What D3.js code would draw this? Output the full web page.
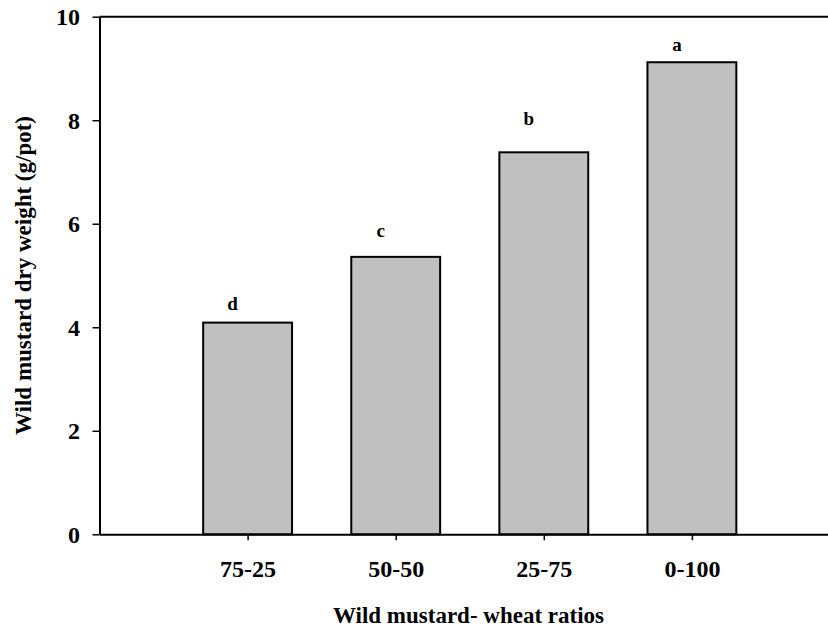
<!DOCTYPE html>
<html>
<head>
<meta charset="utf-8">
<script src="https://cdn.jsdelivr.net/npm/d3@7"></script>
<style>
  html, body { margin: 0; padding: 0; background: #ffffff; }
  svg { display: block; }
  text { font-family: "Liberation Serif", "Times New Roman", serif; font-weight: bold; fill: #000; }
</style>
</head>
<body>
<svg id="chart" width="828" height="631"></svg>
<script>
// Wild mustard dry weight by wild mustard : wheat planting ratio
const categories = ["75-25", "50-50", "25-75", "0-100"];
const dryWeight = [4.09, 5.36, 7.38, 9.12];
// Mean-separation letters and the height (g/pot) at which each is set
const groupLetters = ["d", "c", "b", "a"];
const letterHeights = [4.33, 5.75, 7.91, 9.34];
const yTicks = [0, 2, 4, 6, 8, 10];

const svg = d3.select("#chart");
const W = 828, H = 631;
const plot = { left: 99.5, right: 840, top: 16.7, bottom: 534.3 };

const x = d3.scalePoint()
  .domain(categories)
  .range([plot.left, plot.right])
  .padding(1);

const y = d3.scaleLinear()
  .domain([0, 10])
  .range([plot.bottom, plot.top]);

const barWidth = x.step() * 0.6;

// Bars
svg.append("g")
  .selectAll("rect")
  .data(categories)
  .join("rect")
  .attr("x", (d) => x(d) - barWidth / 2)
  .attr("y", (d, i) => y(dryWeight[i]))
  .attr("width", barWidth)
  .attr("height", (d, i) => y(0) - y(dryWeight[i]))
  .attr("fill", "#c0c0c0")
  .attr("stroke", "#000")
  .attr("stroke-width", 2);

// Letters above bars
svg.append("g")
  .selectAll("text")
  .data(categories)
  .join("text")
  .attr("x", (d) => x(d) - 15)
  .attr("y", (d, i) => y(letterHeights[i]))
  .attr("text-anchor", "middle")
  .style("font-size", "19px")
  .text((d, i) => groupLetters[i]);

// Y axis
const yAxis = svg.append("g")
  .attr("transform", `translate(${plot.left},0)`)
  .call(d3.axisLeft(y).tickValues(yTicks).tickSize(7).tickPadding(12.5).tickSizeOuter(0));
yAxis.select(".domain").attr("stroke", "#000").attr("stroke-width", 2);
yAxis.selectAll(".tick line").attr("stroke", "#000").attr("stroke-width", 1.5);
yAxis.selectAll(".tick text")
  .style("font-size", "24px")
  .style("font-family", "'Liberation Serif', 'Times New Roman', serif")
  .style("font-weight", "bold")
  .attr("dy", "0.34em");

// X axis (runs off the right edge)
const xAxis = svg.append("g")
  .attr("transform", `translate(0,${plot.bottom})`)
  .call(d3.axisBottom(x).tickSize(6).tickSizeOuter(0));
xAxis.select(".domain").attr("stroke", "#000").attr("stroke-width", 2);
xAxis.selectAll(".tick line").attr("stroke", "#000").attr("stroke-width", 1.5);
xAxis.selectAll(".tick text")
  .style("font-size", "24px")
  .style("font-family", "'Liberation Serif', 'Times New Roman', serif")
  .style("font-weight", "bold")
  .attr("y", 42.7)
  .attr("dy", 0);

// Top frame line
svg.append("line")
  .attr("x1", plot.left).attr("x2", W)
  .attr("y1", y(10)).attr("y2", y(10))
  .attr("stroke", "#000").attr("stroke-width", 2);

// Axis titles
svg.append("text")
  .attr("x", 468.5)
  .attr("y", 623)
  .attr("text-anchor", "middle")
  .style("font-size", "23px")
  .text("Wild mustard- wheat ratios");

svg.append("text")
  .attr("transform", `translate(30.5,${(plot.top + plot.bottom) / 2}) rotate(-90)`)
  .attr("text-anchor", "middle")
  .style("font-size", "23px")
  .text("Wild mustard dry weight (g/pot)");
</script>
</body>
</html>
